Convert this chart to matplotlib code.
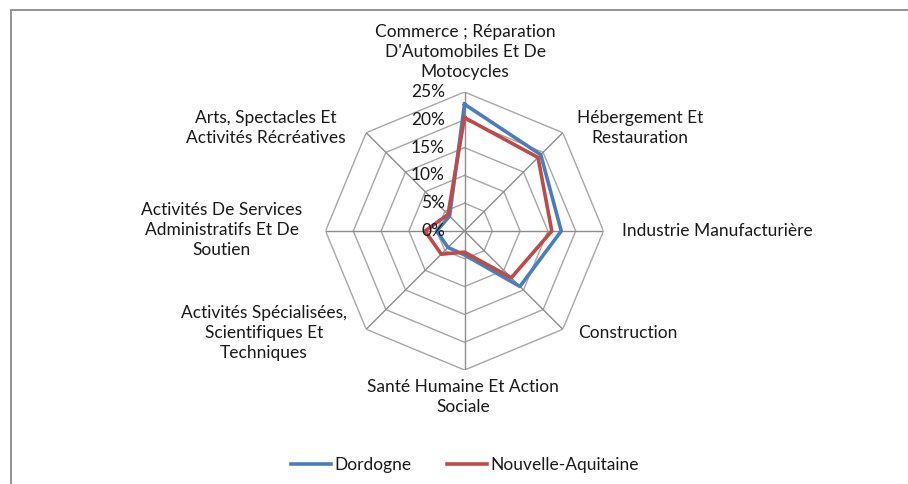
import numpy as np
import matplotlib
matplotlib.use("Agg")
import matplotlib.pyplot as plt
from matplotlib.lines import Line2D
from matplotlib.patches import Rectangle

plt.rcParams['font.family'] = ['Lato', 'DejaVu Sans']

categories = [
    "Commerce ; Réparation\nD'Automobiles Et De\nMotocycles",
    "Hébergement Et\nRestauration",
    "Industrie Manufacturière",
    "Construction",
    "Santé Humaine Et Action\nSociale",
    "Activités Spécialisées,\nScientifiques Et\nTechniques",
    "Activités De Services\nAdministratifs Et De\nSoutien",
    "Arts, Spectacles Et\nActivités Récréatives",
]
dordogne = [22.8, 19.4, 17.4, 14.1, 4.3, 4.2, 5.0, 3.8]
nouvelle_aquitaine = [20.4, 18.7, 15.7, 11.9, 3.8, 5.9, 7.1, 4.2]
r_ticks = [0, 5, 10, 15, 20, 25]
r_tick_labels = ["0%", "5%", "10%", "15%", "20%", "25%"]
series_names = ["Dordogne", "Nouvelle-Aquitaine"]

W, H = 908, 484
fig = plt.figure(figsize=(W / 100, H / 100), dpi=100)

cx, cy, R = 464.5, 231, 139
ax = fig.add_axes([(cx - R) / W, (H - cy - R) / H, 2 * R / W, 2 * R / H], projection='polar')
ax.set_theta_zero_location('N')
ax.set_theta_direction(-1)
ax.set_ylim(0, 25)
ax.grid(False)
ax.spines['polar'].set_visible(False)
ax.set_xticks([])
ax.set_yticks([])
ax.patch.set_alpha(0)

n = len(categories)
angles = np.linspace(0, 2 * np.pi, n, endpoint=False)
closed = np.concatenate([angles, angles[:1]])

grid_col = '#a6a6a6'
for r in r_ticks[1:]:
    ax.plot(closed, [r] * (n + 1), color=grid_col, lw=1.0, zorder=1)
for a in angles:
    ax.plot([a, a], [0, 25], color='#8c8c8c', lw=1.0, zorder=1)

blue = '#4a7ebb'
red = '#be4b48'
ax.plot(closed, dordogne + dordogne[:1], color=blue, lw=2.6, zorder=3)
ax.plot(closed, nouvelle_aquitaine + nouvelle_aquitaine[:1], color=red, lw=2.6, zorder=4)

txt_col = '#1a1a1a'
fs = 12.5
for r, lab in zip(r_ticks, r_tick_labels):
    y = cy - r / 25 * R
    fig.text(445 / W, 1 - y / H, lab, ha='right', va='center', fontsize=fs, color=txt_col, zorder=5)

label_pos = [
    (465, 52, 'center'),
    (640, 128, 'center'),
    (622, 231, 'left'),
    (578, 333, 'left'),
    (463, 397, 'center'),
    (264, 333, 'center'),
    (222, 230, 'center'),
    (266, 128, 'center'),
]
for lab, (x, y, ha) in zip(categories, label_pos):
    fig.text(x / W, 1 - y / H, lab, ha=ha, va='center', multialignment='center',
             fontsize=fs, color=txt_col, linespacing=1.3)

handles = [Line2D([], [], color=blue, lw=2.6), Line2D([], [], color=red, lw=2.6)]
fig.legend(handles, series_names, loc='center', bbox_to_anchor=(465 / W, 1 - 465 / H),
           ncol=2, frameon=False, fontsize=fs, handlelength=2.3, handletextpad=0.2,
           columnspacing=2.0, labelcolor=txt_col)

fig.patches.append(Rectangle((11 / W, -0.1), 1.2, 1.1 - 10.5 / H, transform=fig.transFigure,
                             fill=False, edgecolor='#8a8a8a', lw=1.3, figure=fig))

fig.savefig('out.png', dpi=100, facecolor='white')
